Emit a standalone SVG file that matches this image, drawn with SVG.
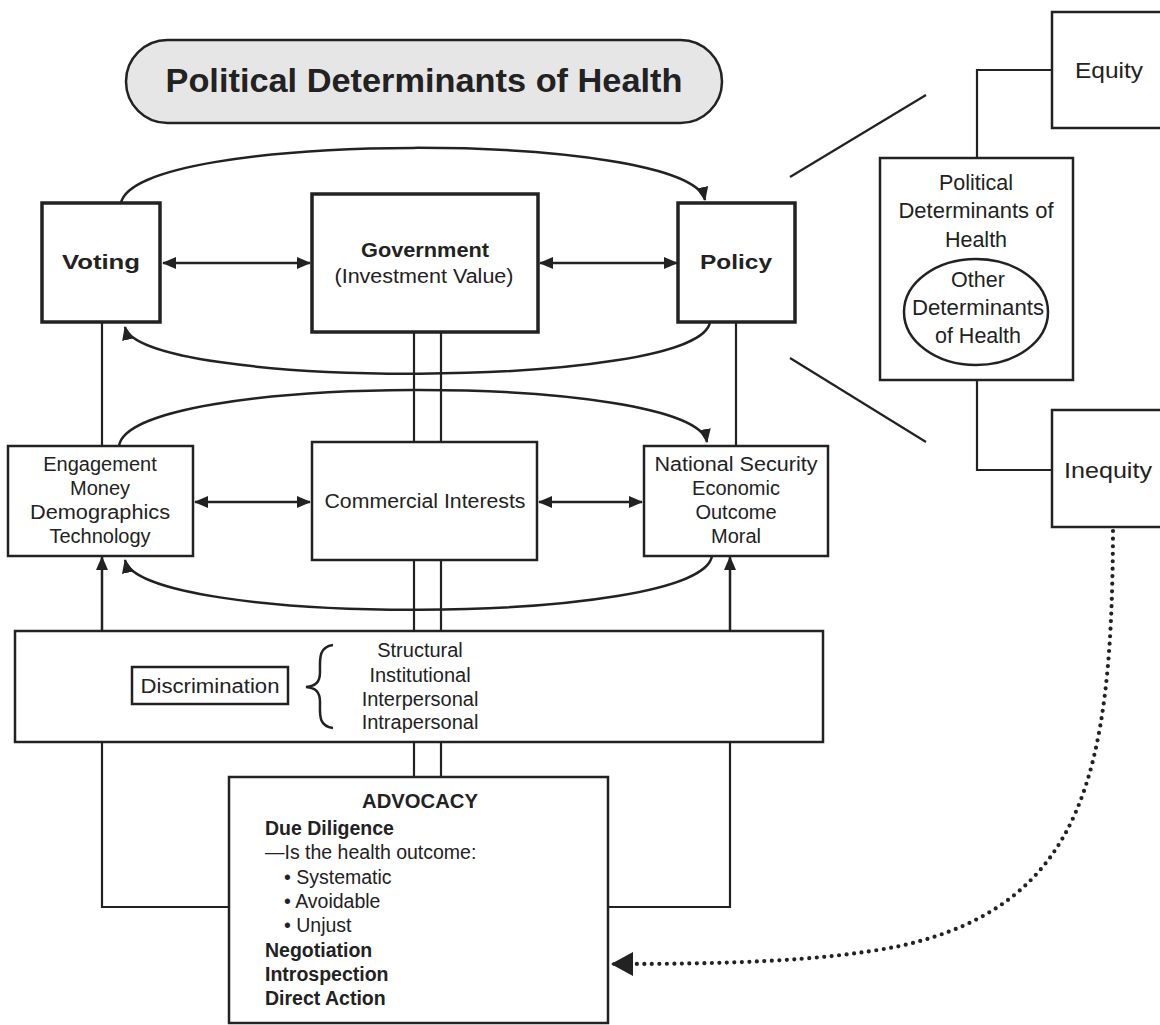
<svg xmlns="http://www.w3.org/2000/svg" width="1160" height="1025" viewBox="0 0 1160 1025">
<style>
text{font-family:"Liberation Sans",Arial,sans-serif;fill:#222;}
.t{font-size:20px;text-anchor:middle;}
.r{font-size:21.5px;text-anchor:middle;}
.b{font-weight:bold;}
.box{fill:#fff;stroke:#222;stroke-width:2.5;}
.thick{fill:#fff;stroke:#222;stroke-width:3.5;}
.ln{fill:none;stroke:#222;stroke-width:2.2;}
.arr{fill:none;stroke:#222;stroke-width:2.5;}
.adv{font-size:19.5px;}
</style>
<defs>
<marker id="ah" viewBox="0 0 14 12" refX="13" refY="6" markerWidth="14" markerHeight="12" markerUnits="userSpaceOnUse" orient="auto-start-reverse">
<path d="M0,0 L14,6 L0,12 z" fill="#222"/>
</marker>
<marker id="big" viewBox="0 0 22 24" refX="21" refY="12" markerWidth="22" markerHeight="24" markerUnits="userSpaceOnUse" orient="auto">
<path d="M0,0 L22,12 L0,24 z" fill="#222"/>
</marker>
</defs>
<rect width="1160" height="1025" fill="#fff"/>

<g id="connectors">
<line class="ln" x1="102" y1="322" x2="102" y2="446"/>
<line class="ln" x1="736" y1="322" x2="736" y2="446"/>
<line class="ln" x1="414" y1="332" x2="414" y2="442"/>
<line class="ln" x1="441" y1="332" x2="441" y2="442"/>
<line class="ln" x1="414" y1="560" x2="414" y2="631"/>
<line class="ln" x1="441" y1="560" x2="441" y2="631"/>
<line class="ln" x1="414" y1="742" x2="414" y2="778"/>
<line class="ln" x1="441" y1="742" x2="441" y2="778"/>
<polyline class="ln" points="102,742 102,907 229,907"/>
<polyline class="ln" points="730,742 730,907 608,907"/>
<line class="arr" x1="102" y1="631" x2="102" y2="557" marker-end="url(#ah)"/>
<line class="arr" x1="730" y1="631" x2="730" y2="557" marker-end="url(#ah)"/>
<line class="arr" x1="163" y1="263" x2="310" y2="263" marker-start="url(#ah)" marker-end="url(#ah)"/>
<line class="arr" x1="540" y1="263" x2="677" y2="263" marker-start="url(#ah)" marker-end="url(#ah)"/>
<line class="arr" x1="195" y1="502" x2="310" y2="502" marker-start="url(#ah)" marker-end="url(#ah)"/>
<line class="arr" x1="539" y1="502" x2="642" y2="502" marker-start="url(#ah)" marker-end="url(#ah)"/>
<path class="arr" d="M121,203 C135,130 690,130 705,200" marker-end="url(#ah)"/>
<path class="arr" d="M710,322 C700,390 140,390 125,327" marker-end="url(#ah)"/>
<path class="arr" d="M119,446 C130,372 695,372 707,442" marker-end="url(#ah)"/>
<path class="arr" d="M712,556 C700,627 140,627 125,560" marker-end="url(#ah)"/>
<line class="ln" x1="790" y1="177" x2="926" y2="95"/>
<line class="ln" x1="790" y1="358" x2="926" y2="442"/>
<polyline class="ln" points="977,158 977,70 1052,70"/>
<polyline class="ln" points="977,380 977,470 1052,470"/>
<path d="M1113,531 C1112,770 1085,905 900,946 C820,962 720,964 612,964" fill="none" stroke="#222" stroke-width="4.2" stroke-linecap="round" stroke-dasharray="0 7.5" marker-end="url(#big)"/>
</g>

<g id="title">
<rect x="126" y="40" width="596" height="83" rx="41.5" fill="#e6e6e6" stroke="#222" stroke-width="2.5"/>
<text x="424" y="92" class="b" font-size="33" text-anchor="middle" textLength="517" lengthAdjust="spacingAndGlyphs">Political Determinants of Health</text>
</g>

<g id="voting">
<rect class="thick" x="42" y="203" width="118" height="119"/>
<text x="101" y="269" class="t b" font-size="24" textLength="78" lengthAdjust="spacingAndGlyphs">Voting</text>
</g>

<g id="government">
<rect class="thick" x="312" y="194" width="226" height="138"/>
<text x="425" y="257" class="t b" textLength="128" lengthAdjust="spacingAndGlyphs">Government</text>
<text x="424" y="283" class="t" textLength="179" lengthAdjust="spacingAndGlyphs">(Investment Value)</text>
</g>

<g id="policy">
<rect class="thick" x="678" y="203" width="117" height="119"/>
<text x="736" y="269" class="t b" font-size="24" textLength="72" lengthAdjust="spacingAndGlyphs">Policy</text>
</g>

<g id="engagement">
<rect class="box" x="8" y="446" width="185" height="110"/>
<text x="100" y="471" class="t">Engagement</text>
<text x="100" y="495" class="t">Money</text>
<text x="100" y="519" class="t" textLength="140" lengthAdjust="spacingAndGlyphs">Demographics</text>
<text x="100" y="543" class="t">Technology</text>
</g>

<g id="commercial">
<rect class="box" x="312" y="442" width="225" height="118"/>
<text x="425" y="508" class="t" textLength="201" lengthAdjust="spacingAndGlyphs">Commercial Interests</text>
</g>

<g id="national">
<rect class="box" x="644" y="446" width="184" height="110"/>
<text x="736" y="471" class="t" textLength="163" lengthAdjust="spacingAndGlyphs">National Security</text>
<text x="736" y="495" class="t">Economic</text>
<text x="736" y="519" class="t">Outcome</text>
<text x="736" y="543" class="t">Moral</text>
</g>

<g id="discrimination">
<rect class="box" x="15" y="631" width="808" height="111"/>
<rect x="132" y="667" width="156" height="37" fill="#fff" stroke="#222" stroke-width="2.5"/>
<text x="210" y="693" class="t" textLength="139" lengthAdjust="spacingAndGlyphs">Discrimination</text>
<path d="M333,645 C318,647 320,660 320,672 C320,682 316,686 306,687 C316,688 320,692 320,702 C320,714 318,726 333,728" fill="none" stroke="#222" stroke-width="2.5"/>
<text x="420" y="657" class="t">Structural</text>
<text x="420" y="682" class="t">Institutional</text>
<text x="420" y="706" class="t">Interpersonal</text>
<text x="420" y="729" class="t">Intrapersonal</text>
</g>

<g id="advocacy">
<rect class="box" x="229" y="777" width="379" height="246"/>
<text x="420" y="808" class="adv b" text-anchor="middle" textLength="116" lengthAdjust="spacingAndGlyphs">ADVOCACY</text>
<text x="265" y="835" class="adv b">Due Diligence</text>
<text x="265" y="859" class="adv">—Is the health outcome:</text>
<text x="284" y="884" class="adv">• Systematic</text>
<text x="284" y="908" class="adv">• Avoidable</text>
<text x="284" y="932" class="adv">• Unjust</text>
<text x="265" y="957" class="adv b">Negotiation</text>
<text x="265" y="981" class="adv b">Introspection</text>
<text x="265" y="1005" class="adv b">Direct Action</text>
</g>

<g id="pdh">
<rect class="box" x="880" y="158" width="193" height="222"/>
<text x="976" y="190" class="r">Political</text>
<text x="976" y="218" class="r" textLength="155" lengthAdjust="spacingAndGlyphs">Determinants of</text>
<text x="976" y="247" class="r">Health</text>
<ellipse cx="976" cy="312" rx="72" ry="53" fill="#fff" stroke="#222" stroke-width="2.5"/>
<text x="978" y="287" class="r">Other</text>
<text x="978" y="315" class="r" textLength="132" lengthAdjust="spacingAndGlyphs">Determinants</text>
<text x="978" y="343" class="r">of Health</text>
</g>

<g id="equity">
<rect class="box" x="1052" y="12" width="120" height="116"/>
<text x="1109" y="78" class="r" font-size="23" textLength="68" lengthAdjust="spacingAndGlyphs">Equity</text>
</g>

<g id="inequity">
<rect class="box" x="1052" y="410" width="120" height="117"/>
<text x="1108" y="478" class="r" font-size="23" textLength="88" lengthAdjust="spacingAndGlyphs">Inequity</text>
</g>
</svg>
